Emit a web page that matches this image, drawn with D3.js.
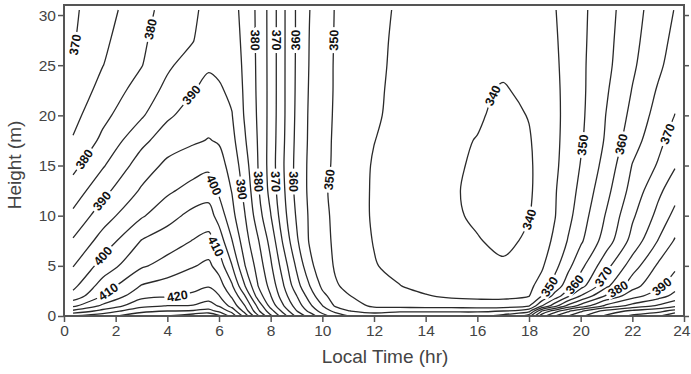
<!DOCTYPE html>
<html><head><meta charset="utf-8">
<script src="https://cdn.jsdelivr.net/npm/d3@7"></script>
<style>
body{margin:0;background:#fff;}
svg text{font-family:"Liberation Sans",Arial,sans-serif;}
</style></head><body>
<svg id="chart" width="691" height="374"></svg>
<script>
// Local time (hr) of each measured profile
const times = [0.35, 1.5, 3, 4, 5, 5.6, 6, 6.5, 7, 7.5, 8, 8.5, 9, 9.5, 10, 10.5, 11, 12, 13, 14, 15, 16, 17, 18, 18.5, 19, 19.5, 20, 21, 22, 23, 23.65];
// Heights (m) of each profile level
const heights = [0, 0.5, 1, 2, 3, 5, 7.5, 10, 12.5, 15, 17.5, 20, 22.5, 25, 27.5, 30.5];
// CO2 (ppm) profiles, one array per time, bottom to top
const profiles = [
 [425, 416, 409, 401.7, 398.7, 394.8, 390.5, 386.1, 382.2, 378.7, 375.4, 373.5, 371.7, 370.3, 369.6, 369.2],
 [428, 421.7, 416, 410.2, 407.2, 402, 397, 392.7, 388.5, 384.5, 381.1, 378.7, 376.7, 374.9, 374, 373],
 [433, 428.7, 423.6, 418.5, 415.3, 409.3, 405.2, 399.4, 395.6, 392.4, 388.7, 384.4, 382.1, 379.8, 379, 378],
 [435, 430, 425.2, 419.5, 417, 412, 407.4, 403.3, 399.1, 396.1, 392.6, 389.2, 386.3, 384.2, 383, 382],
 [438, 430.5, 425.4, 420.8, 418.7, 414.7, 410.2, 406.4, 401.9, 397.7, 394.4, 392.1, 389.8, 387.3, 384.8, 383.6],
 [440, 431.7, 427.1, 422.7, 419.6, 416.1, 411.6, 407.2, 402.9, 398.9, 395.2, 393.2, 391.2, 389.5, 388.5, 387.5],
 [436, 428.7, 424.6, 420.2, 417.5, 412.8, 407.8, 403, 399.1, 396.8, 394.6, 392.6, 390.6, 389, 388.3, 387.8],
 [428, 423.3, 418.3, 414.2, 410.7, 405.2, 400.2, 396.5, 394.8, 393.3, 391.5, 390.2, 389, 388, 387.2, 386.5],
 [418, 413, 410.2, 405.2, 400.2, 395.2, 392.1, 390.2, 388.6, 387.1, 385.5, 384.5, 384.2, 384, 383.8, 383.6],
 [406, 401.3, 399, 393, 390.2, 388.1, 385.6, 382.5, 380.8, 380.1, 379.8, 379.5, 379.3, 379.2, 379.1, 379],
 [396, 392, 388.3, 385.2, 383.3, 380.8, 378.3, 375.2, 373.3, 372.8, 373, 373.2, 373.3, 373.3, 373.3, 373.3],
 [387, 383.3, 380.2, 377.1, 375.2, 372.5, 369, 366.7, 365.7, 365.2, 365.5, 365.7, 365.7, 365.7, 365.7, 365.7],
 [379, 375.2, 372.9, 370.2, 367.1, 364.2, 360.8, 359.5, 358.5, 358.5, 358.8, 359.1, 359.3, 359.4, 359.5, 359.5],
 [373, 368.8, 366.3, 362.9, 360.2, 356.4, 354.6, 354.4, 354.1, 354.1, 354.3, 354.4, 354.6, 354.8, 354.9, 355.1],
 [367, 363, 360.2, 356.3, 354, 352.1, 351.2, 350.9, 350.6, 351.1, 351.4, 351.7, 351.9, 352, 352.1, 352.2],
 [363, 358.6, 354.5, 352.8, 350.4, 349.6, 349.4, 349.3, 349.2, 349.4, 349.4, 349.5, 349.6, 349.6, 349.7, 349.8],
 [360, 355.2, 352.3, 350.2, 349.2, 348.2, 347.6, 347.4, 347.4, 347.6, 347.9, 348.2, 348.3, 348.5, 348.6, 348.7],
 [358, 353, 349.2, 348.3, 346.5, 345.3, 344.8, 344.5, 344.5, 344.6, 345.1, 345.7, 345.9, 346.2, 346.3, 346.5],
 [358, 354.3, 348.3, 346.3, 345.1, 343.6, 343.3, 343.2, 343.2, 343.2, 343.3, 343.5, 343.7, 343.8, 344, 344.3],
 [358, 354.3, 348, 345.3, 343.6, 342.4, 341.8, 341.6, 341.6, 341.8, 342.1, 342.3, 342.6, 342.8, 343, 343.2],
 [358, 354.3, 347.8, 344.2, 342.8, 341.4, 341, 341, 340.9, 340.8, 341, 341.3, 341.6, 341.9, 342.2, 342.5],
 [358, 354.3, 347.5, 343.8, 343, 341.4, 340.4, 339, 338.3, 339.3, 339.8, 340.7, 341.2, 341.6, 342, 342.3],
 [362, 355, 347.5, 343.8, 343, 340.9, 338.5, 337, 336.5, 336.8, 337.5, 338.5, 339.4, 341.3, 342, 342.5],
 [368, 358, 349.8, 344.8, 344, 342.5, 341, 339.8, 339.3, 339.3, 339.6, 340.2, 341.5, 342.8, 343.2, 343.5],
 [383, 375, 360, 350.2, 346.7, 344.4, 343.2, 342.3, 341.9, 341.7, 341.8, 342.5, 343, 343.8, 344, 344.2],
 [390, 382.5, 368.3, 356.7, 352, 348.5, 345.8, 344.8, 344.6, 344.2, 344.1, 344, 344.1, 344.3, 344.5, 344.8],
 [395, 388.8, 376.3, 363.8, 357.5, 353.5, 350.2, 348.5, 347.7, 346.9, 346.4, 346.3, 346.3, 346.4, 346.6, 346.8],
 [399, 394, 382, 370.2, 363, 358.5, 354.2, 352.5, 351.2, 350.2, 349.4, 349, 348.9, 349, 348.9, 348.8],
 [406, 401.9, 391.4, 380.7, 373.9, 368.5, 362.5, 360.5, 358.6, 356.9, 355.7, 355.2, 354.5, 353.8, 353.5, 353.2],
 [411, 406.2, 396.9, 387.9, 383.1, 377.5, 371.7, 369.2, 366.8, 365.2, 362.9, 361.3, 360.2, 359.2, 358.6, 358],
 [414, 408.5, 400.8, 392.7, 388.9, 385.8, 380.2, 376.4, 373.9, 370.5, 368.5, 366.9, 365.5, 364, 363.2, 362.5],
 [420, 411.7, 403.8, 396.5, 393.1, 388.8, 385.5, 381.5, 377.8, 374.6, 372.4, 370.1, 368.6, 367.2, 366.2, 365.2]
];
// contour levels (ppm)
const levels = d3.range(340, 445, 5);
// contour labels: [level, time, height] where each label sits
const labels = [
 [370, 0.5, 27.0], [380, 3.5, 28.5], [390, 4.95, 22], [380, 0.8, 15.6], [390, 1.4, 11.6],
 [400, 1.5, 6.0], [410, 1.85, 1.9], [420, 4.4, 1.6], [400, 5.75, 13], [410, 5.85, 6.9],
 [380, 7.4, 27.5], [370, 8.17, 27.5], [360, 8.94, 27.5], [350, 10.4, 27.5],
 [390, 6.8, 12.6], [380, 7.47, 13.4], [370, 8.17, 13.4], [360, 8.87, 13.4], [350, 10.2, 13.6],
 [340, 16.8, 21.8], [340, 18.05, 9.6],
 [350, 20.2, 17], [360, 21.45, 17.2], [370, 23.3, 18.2],
 [350, 18.8, 2.9], [360, 19.8, 3.1], [370, 20.9, 3.9], [380, 21.5, 2.4], [390, 23.2, 2.7]
];
const xTicks = d3.range(0, 25, 2);
const yTicks = d3.range(0, 31, 5);

const svg = d3.select("#chart");
const x = d3.scaleLinear().domain([0, 24]).range([64, 684]);
const y = d3.scaleLinear().domain([0, 31]).range([316, 5]);
const n = times.length, m = heights.length;
const tIdx = d3.scaleLinear().domain(d3.range(n)).range(times);
const zIdx = d3.scaleLinear().domain(d3.range(m)).range(heights);

const values = new Array(n * m);
for (let i = 0; i < n; i++) for (let j = 0; j < m; j++) values[j * n + i] = profiles[i][j];
const cs = d3.contours().size([n, m]).thresholds(levels)(values);

const toPx = p => [x(tIdx(p[0] - 0.5)), y(zIdx(p[1] - 0.5))];
const onB = p => p[0] <= 0 || p[0] >= n || p[1] <= 0 || p[1] >= m;
const pieces = [];
cs.forEach(c => {
  c.coordinates.forEach(poly => poly.forEach(ring => {
    const pts = ring.slice(0, -1);
    const b = pts.findIndex(onB);
    if (b < 0) { pieces.push({level: c.value, pts: pts.map(toPx), closed: true}); return; }
    const rot = pts.slice(b).concat(pts.slice(0, b));
    let cur = [];
    rot.forEach(p => {
      if (onB(p)) { if (cur.length > 1) pieces.push({level: c.value, pts: cur.map(toPx), closed: false}); cur = []; }
      else cur.push(p);
    });
    if (cur.length > 1) pieces.push({level: c.value, pts: cur.map(toPx), closed: false});
  }));
});

const defs = svg.append("defs");
const mask = defs.append("mask").attr("id", "lblmask").attr("maskUnits", "userSpaceOnUse")
  .attr("x", 0).attr("y", 0).attr("width", 691).attr("height", 374);
mask.append("rect").attr("width", 691).attr("height", 374).attr("fill", "#fff");

const lineOpen = d3.line().curve(d3.curveCatmullRom.alpha(0.5));
const lineClosed = d3.line().curve(d3.curveCatmullRomClosed.alpha(0.5));
const gLines = svg.append("g").attr("mask", "url(#lblmask)");
gLines.selectAll("path").data(pieces).join("path")
  .attr("d", d => d.closed ? lineClosed(d.pts) : lineOpen(d.pts))
  .attr("fill", "none").attr("stroke", "#2a2a2a").attr("stroke-width", 1.3);

// label placement along contour
function placeOn(pts, P) {
  const cum = [0];
  for (let k = 1; k < pts.length; k++) cum.push(cum[k-1] + Math.hypot(pts[k][0]-pts[k-1][0], pts[k][1]-pts[k-1][1]));
  let best = {d: Infinity};
  for (let k = 0; k < pts.length - 1; k++) {
    const a = pts[k], b = pts[k+1], dx = b[0]-a[0], dy = b[1]-a[1], L2 = dx*dx+dy*dy;
    let u = L2 ? ((P[0]-a[0])*dx + (P[1]-a[1])*dy) / L2 : 0;
    u = Math.max(0, Math.min(1, u));
    const q = [a[0]+u*dx, a[1]+u*dy];
    const d = Math.hypot(q[0]-P[0], q[1]-P[1]);
    if (d < best.d) best = {d, q, s: cum[k] + u*Math.sqrt(L2)};
  }
  const at = s => {
    s = Math.max(0, Math.min(cum[cum.length-1], s));
    let k = d3.bisectRight(cum, s) - 1; k = Math.max(0, Math.min(pts.length-2, k));
    const seg = cum[k+1]-cum[k] || 1, u = (s-cum[k])/seg;
    return [pts[k][0]+u*(pts[k+1][0]-pts[k][0]), pts[k][1]+u*(pts[k+1][1]-pts[k][1])];
  };
  const p0 = at(best.s - 9), p1 = at(best.s + 9);
  best.angle = Math.atan2(p1[1]-p0[1], p1[0]-p0[0]) * 180 / Math.PI;
  return best;
}
const gLab = svg.append("g");
labels.forEach(([lev, t, z]) => {
  const P = [x(t), y(z)];
  let best = null;
  pieces.filter(p => p.level === lev).forEach(p => {
    const pts = p.closed ? p.pts.concat([p.pts[0]]) : p.pts;
    const r = placeOn(pts, P);
    if (!best || r.d < best.d) best = r;
  });
  if (!best) return;
  let ang = best.angle;
  if (ang > 90) ang -= 180;
  if (ang <= -90) ang += 180;
  const tr = `translate(${best.q[0]},${best.q[1]}) rotate(${ang})`;
  const txt = gLab.append("text").attr("transform", tr)
    .attr("text-anchor", "middle").attr("dy", "0.36em")
    .attr("font-size", 12.5).attr("font-weight", "bold").attr("fill", "#111")
    .text(lev);
  const w = txt.node().getComputedTextLength();
  mask.append("rect").attr("transform", tr).attr("x", -w/2 - 2.5).attr("y", -5.5)
    .attr("width", w + 5).attr("height", 11).attr("fill", "#000");
});

// axes
const axColor = "#555";
const gx = svg.append("g").attr("transform", "translate(0,316)")
  .call(d3.axisBottom(x).tickValues(xTicks).tickSize(6).tickPadding(3));
const gy = svg.append("g").attr("transform", "translate(64,0)")
  .call(d3.axisLeft(y).tickValues(yTicks).tickSize(6).tickPadding(2));
const gr = svg.append("g").attr("transform", "translate(684,0)")
  .call(d3.axisRight(y).tickValues(yTicks).tickSize(5).tickFormat(""));
[gx, gy, gr].forEach(g => {
  g.select(".domain").remove();
  g.selectAll(".tick line").attr("stroke", axColor).attr("stroke-width", 1.5);
  g.selectAll(".tick text").attr("fill", "#444").attr("font-size", 15.5)
    .attr("font-family", "'Liberation Sans', Arial, sans-serif");
});
// keep the last x tick label inside the picture
gx.selectAll(".tick text").filter(d => d === 24).attr("text-anchor", "end").attr("x", 6);
svg.append("rect").attr("x", 64).attr("y", 5).attr("width", 620).attr("height", 311)
  .attr("fill", "none").attr("stroke", axColor).attr("stroke-width", 2);

svg.append("text").attr("x", 385).attr("y", 363).attr("text-anchor", "middle")
  .attr("font-size", 19).attr("fill", "#444").text("Local Time (hr)");
svg.append("text").attr("transform", "translate(21,165) rotate(-90)").attr("text-anchor", "middle")
  .attr("font-size", 19).attr("fill", "#444").text("Height (m)");
</script>
</body></html>
